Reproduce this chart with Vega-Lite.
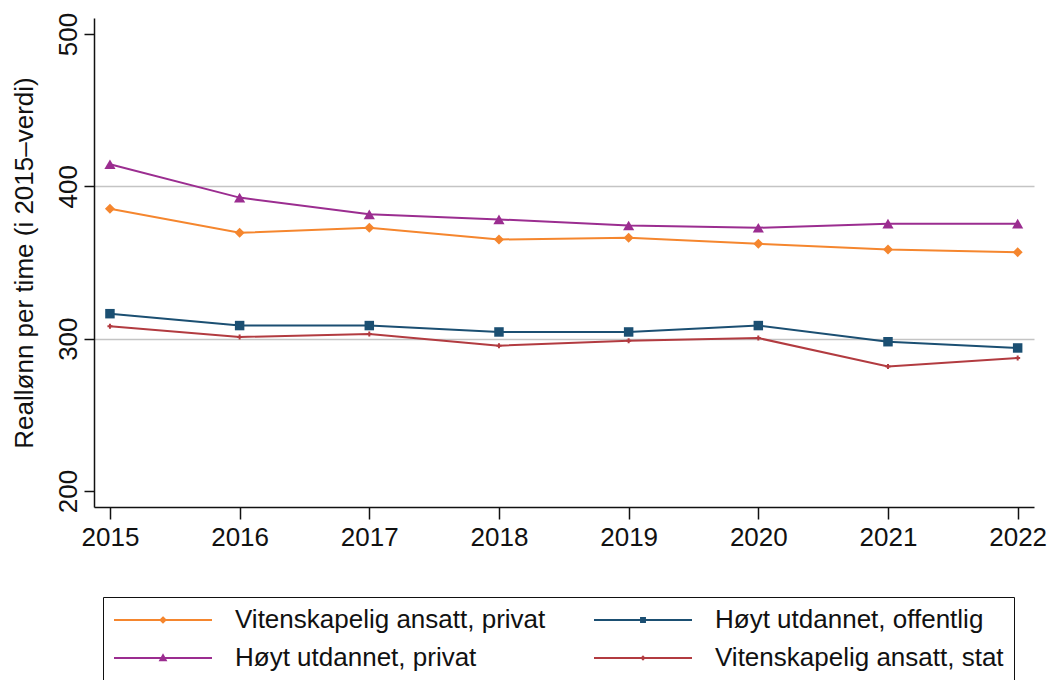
{
  "$schema": "https://vega.github.io/schema/vega-lite/v6.json",
  "width": 940,
  "height": 489,
  "autosize": "none",
  "padding": {"left": 94, "top": 18, "right": 14, "bottom": 173},
  "background": "white",
  "config": {
    "view": {"stroke": null},
    "font": "Liberation Sans",
    "axis": {"labelFont": "Liberation Sans", "titleFont": "Liberation Sans", "labelColor": "#111111", "titleColor": "#111111", "titleFontWeight": "normal"},
    "legend": {"labelFont": "Liberation Sans"}
  },
  "data": {
    "values": [
      {"year": 2015, "series": "Vitenskapelig ansatt, privat", "value": 385.3},
      {"year": 2016, "series": "Vitenskapelig ansatt, privat", "value": 369.5},
      {"year": 2017, "series": "Vitenskapelig ansatt, privat", "value": 372.8},
      {"year": 2018, "series": "Vitenskapelig ansatt, privat", "value": 365.1},
      {"year": 2019, "series": "Vitenskapelig ansatt, privat", "value": 366.2},
      {"year": 2020, "series": "Vitenskapelig ansatt, privat", "value": 362.3},
      {"year": 2021, "series": "Vitenskapelig ansatt, privat", "value": 358.6},
      {"year": 2022, "series": "Vitenskapelig ansatt, privat", "value": 356.8},
      {"year": 2015, "series": "Høyt utdannet, offentlig", "value": 316.4},
      {"year": 2016, "series": "Høyt utdannet, offentlig", "value": 308.6},
      {"year": 2017, "series": "Høyt utdannet, offentlig", "value": 308.6},
      {"year": 2018, "series": "Høyt utdannet, offentlig", "value": 304.4},
      {"year": 2019, "series": "Høyt utdannet, offentlig", "value": 304.4},
      {"year": 2020, "series": "Høyt utdannet, offentlig", "value": 308.6},
      {"year": 2021, "series": "Høyt utdannet, offentlig", "value": 298.0},
      {"year": 2022, "series": "Høyt utdannet, offentlig", "value": 293.9},
      {"year": 2015, "series": "Høyt utdannet, privat", "value": 414.5},
      {"year": 2016, "series": "Høyt utdannet, privat", "value": 392.6},
      {"year": 2017, "series": "Høyt utdannet, privat", "value": 381.6},
      {"year": 2018, "series": "Høyt utdannet, privat", "value": 378.3},
      {"year": 2019, "series": "Høyt utdannet, privat", "value": 374.3},
      {"year": 2020, "series": "Høyt utdannet, privat", "value": 372.8},
      {"year": 2021, "series": "Høyt utdannet, privat", "value": 375.5},
      {"year": 2022, "series": "Høyt utdannet, privat", "value": 375.5},
      {"year": 2015, "series": "Vitenskapelig ansatt, stat", "value": 308.1},
      {"year": 2016, "series": "Vitenskapelig ansatt, stat", "value": 301.1},
      {"year": 2017, "series": "Vitenskapelig ansatt, stat", "value": 303.1},
      {"year": 2018, "series": "Vitenskapelig ansatt, stat", "value": 295.4},
      {"year": 2019, "series": "Vitenskapelig ansatt, stat", "value": 298.7},
      {"year": 2020, "series": "Vitenskapelig ansatt, stat", "value": 300.4},
      {"year": 2021, "series": "Vitenskapelig ansatt, stat", "value": 281.8},
      {"year": 2022, "series": "Vitenskapelig ansatt, stat", "value": 287.3}
    ]
  },
  "encoding": {
    "x": {
      "field": "year", "type": "quantitative",
      "scale": {"domain": [2014.877, 2022.126], "nice": false, "zero": false},
      "axis": {
        "values": [2015, 2016, 2017, 2018, 2019, 2020, 2021, 2022],
        "format": "d", "title": null, "grid": false,
        "labelFontSize": 26, "labelPadding": 5, "tickSize": 12, "tickWidth": 1.5, "tickColor": "#111111",
        "domainColor": "#111111", "domainWidth": 1.5, "labelFlush": false
      }
    },
    "y": {
      "field": "value", "type": "quantitative",
      "scale": {"domain": [189.5, 510.5], "nice": false, "zero": false},
      "axis": {
        "values": [200, 300, 400, 500],
        "title": "Reallønn per time (i 2015–verdi)",
        "titleFontSize": 26, "titlePadding": 18,
        "labelFontSize": 26, "labelAngle": -90, "labelAlign": "center", "labelBaseline": "bottom", "labelPadding": 3,
        "tickSize": 10, "tickWidth": 1.5, "tickColor": "#111111",
        "domainColor": "#111111", "domainWidth": 1.5,
        "grid": true, "gridColor": "#c4c4c4", "gridWidth": 1.5,
        "gridOpacity": {"condition": {"test": "datum.value == 300 || datum.value == 400", "value": 1}, "value": 0}
      }
    },
    "color": {
      "field": "series", "type": "nominal",
      "scale": {
        "domain": ["Vitenskapelig ansatt, privat", "Høyt utdannet, privat", "Høyt utdannet, offentlig", "Vitenskapelig ansatt, stat"],
        "range": ["#F5862E", "#9B2D90", "#1B4F72", "#B23B40"]
      },
      "legend": {
        "title": null, "orient": "none", "legendX": 9, "legendY": 579,
        "columns": 2, "gridAlign": "all", "columnPadding": 47, "rowPadding": 12,
        "padding": 10, "strokeColor": "#111111", "fillColor": "white",
        "labelFontSize": 26, "labelColor": "#111111", "labelOffset": 22, "labelLimit": 0,
        "symbolSize": 9604, "clipHeight": 26, "symbolStrokeWidth": 2, "symbolOpacity": 1,
        "symbolFillColor": {"expr": "scale('color', datum.value)"},
        "symbolType": {"expr": "datum.value == 'Vitenskapelig ansatt, privat' ? 'M-1,0H1M0,-0.05L0.05,0L0,0.05L-0.05,0Z' : datum.value == 'Høyt utdannet, offentlig' ? 'M-1,0H1M-0.04,-0.04H0.04V0.04H-0.04Z' : datum.value == 'Høyt utdannet, privat' ? 'M-1,0H1M0,-0.055L0.055,0.045L-0.055,0.045Z' : 'M-1,0H1M0,-0.025L0.025,0L0,0.025L-0.025,0Z'"}
      }
    }
  },
  "layer": [
    {"mark": {"type": "line", "strokeWidth": 2}},
    {
      "transform": [{"filter": {"field": "series", "equal": "Vitenskapelig ansatt, privat"}}],
      "mark": {"type": "point", "filled": true, "opacity": 1, "shape": "diamond", "size": 100}
    },
    {
      "transform": [{"filter": {"field": "series", "equal": "Høyt utdannet, privat"}}],
      "mark": {"type": "point", "filled": true, "opacity": 1, "shape": "triangle-up", "size": 125}
    },
    {
      "transform": [{"filter": {"field": "series", "equal": "Høyt utdannet, offentlig"}}],
      "mark": {"type": "point", "filled": true, "opacity": 1, "shape": "square", "size": 90}
    },
    {
      "transform": [{"filter": {"field": "series", "equal": "Vitenskapelig ansatt, stat"}}],
      "mark": {"type": "point", "filled": true, "opacity": 1, "shape": "cross", "size": 25}
    }
  ]
}
